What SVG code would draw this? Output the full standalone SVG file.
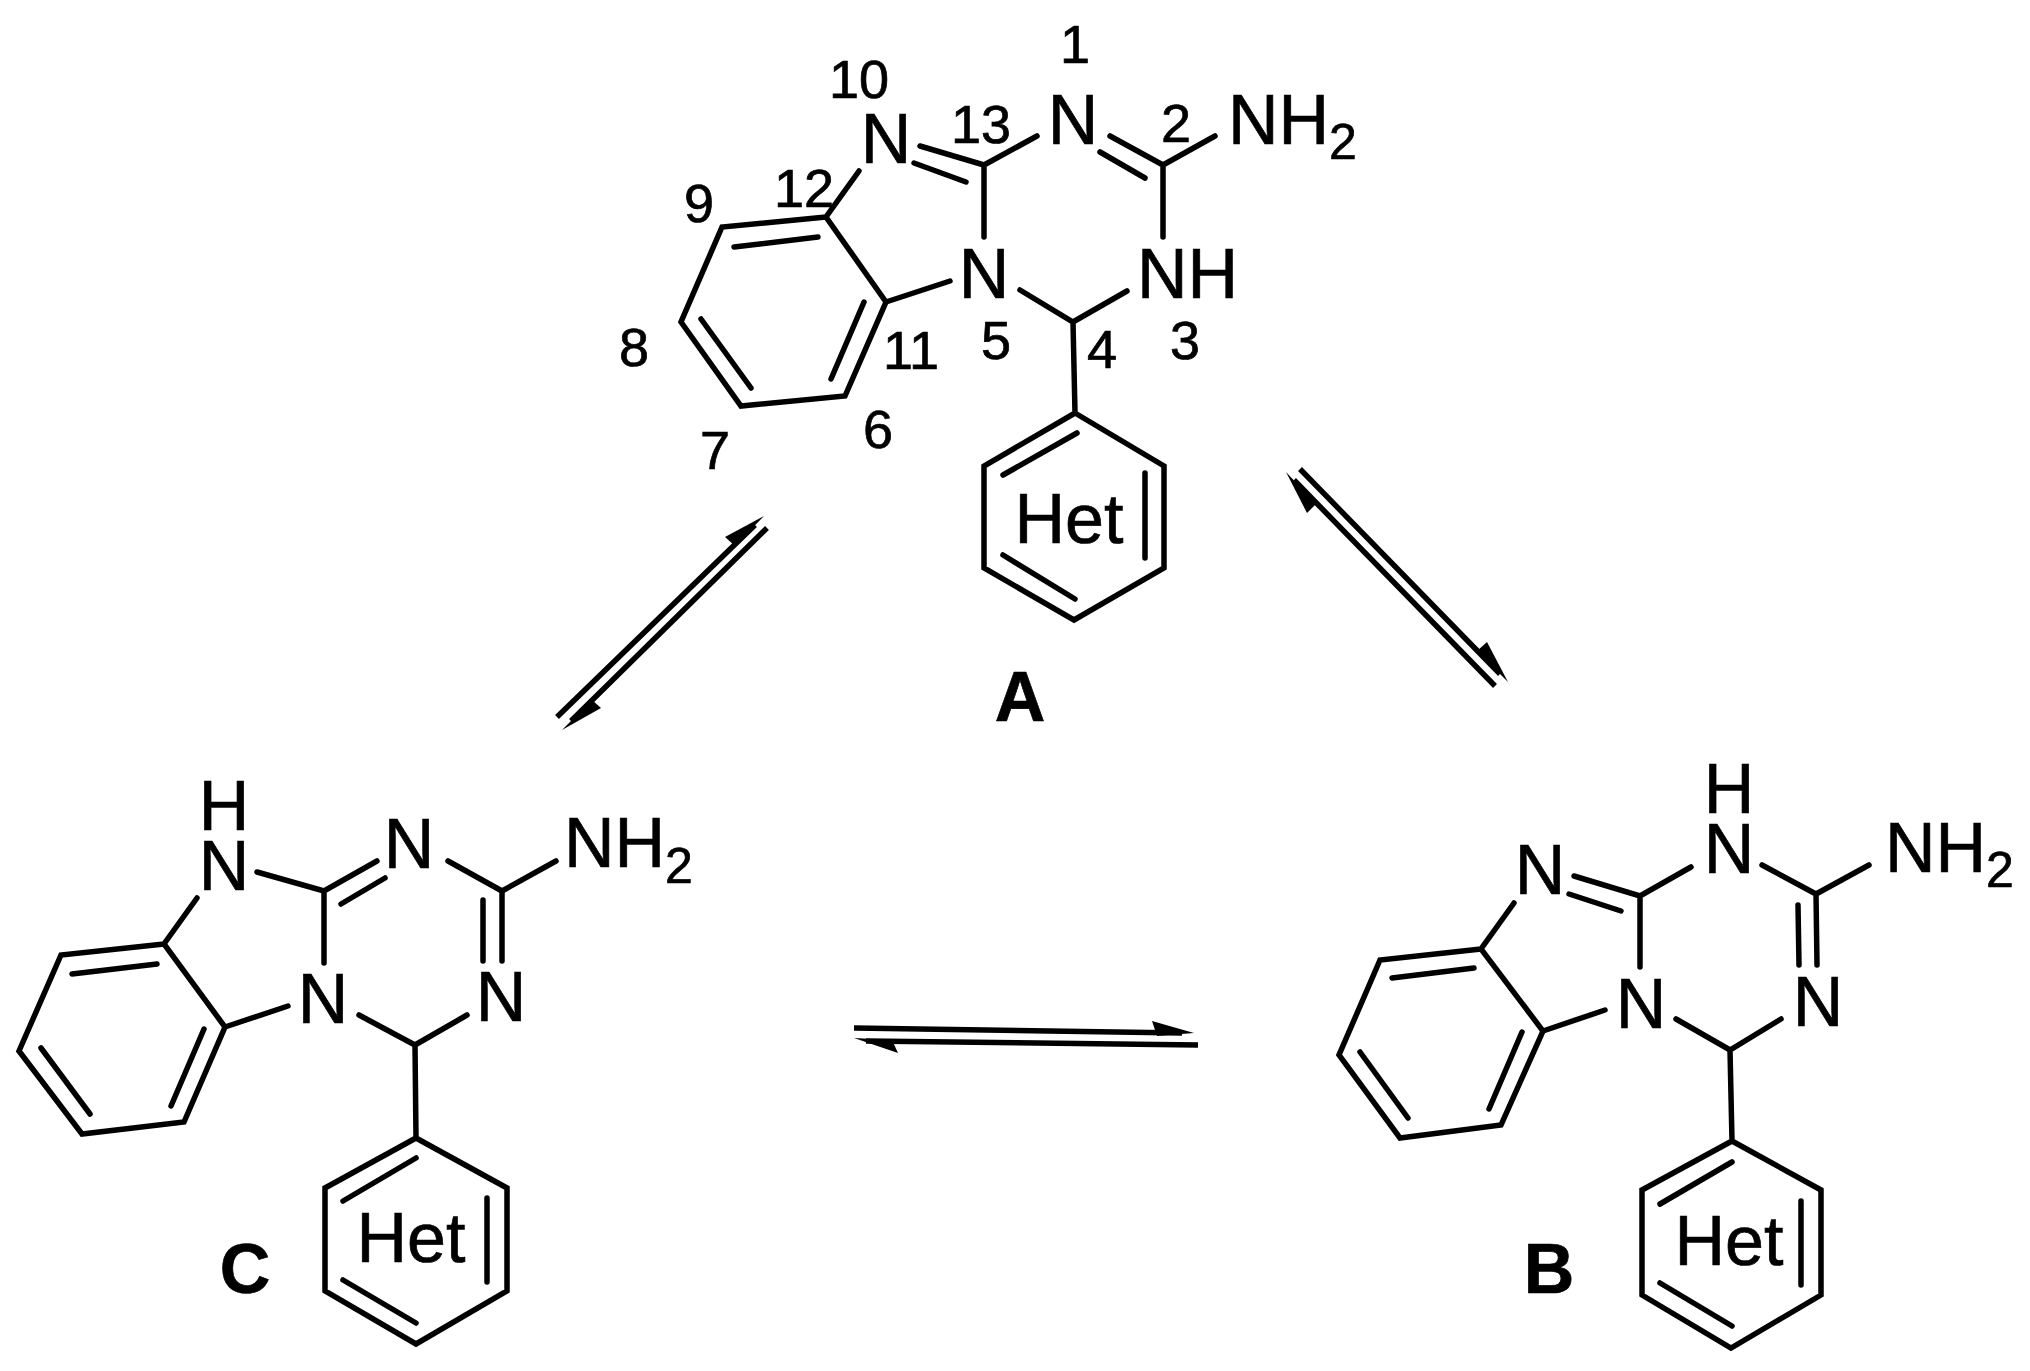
<svg xmlns="http://www.w3.org/2000/svg" width="2030" height="1371" viewBox="0 0 2030 1371">
<defs><style>
.b{fill:none;stroke:#000;stroke-width:5.5;stroke-linecap:round;stroke-linejoin:miter}
.ar{fill:none;stroke:#000;stroke-width:5.5;stroke-linecap:butt}
.h{fill:#000;stroke:none}
text{font-family:"Liberation Sans",Arial,sans-serif;fill:#000;stroke:#000;stroke-width:.7}
.a{font-size:70px}
.m{text-anchor:middle}
.s{font-size:50px}
.n{font-size:54px;text-anchor:middle}
.l{font-size:70px;font-weight:bold;text-anchor:middle}
</style></defs>
<rect width="2030" height="1371" fill="#fff"/>
<g id="molecule-A">
<path class="b" d="M826 217L722 227L681 322L741 406L845 396L886 302L826 217L859 171M734 247L818 237M701 319L751 388M831 379L864 302M984 165L920 146M966 182L914 163M984 165L1037 136M984 165V237M1110 136L1163 165M1100 152L1145 178M1163 165L1215 136M1163 165V237M950 281L886 302M1020 290L1073 322L1127 291M1073 322L1075 413M1075 413L1164 466V568L1074 620L984 568V466ZM1077 433L1003 475M1145 473V558M1003 555L1075 599"/>
<text class="a m" x="886" y="163">N</text><text class="a m" x="1073" y="144">N</text>
<text class="a" x="1228" y="144">NH<tspan class="s" dy="15">2</tspan></text>
<text class="a" x="1137" y="298">NH</text><text class="a m" x="984" y="298">N</text>
<text class="a m" x="1069" y="543">Het</text><text class="l" x="1020" y="721">A</text>
<text class="n" x="1075" y="63">1</text><text class="n" x="859" y="98">10</text><text class="n" x="981" y="143">13</text><text class="n" x="1176" y="142">2</text><text class="n" x="804" y="207">12</text><text class="n" x="699" y="222">9</text><text class="n" x="911" y="369">11</text><text class="n" x="996" y="359">5</text><text class="n" x="1102" y="368">4</text><text class="n" x="1185" y="359">3</text><text class="n" x="878" y="448">6</text><text class="n" x="715" y="469">7</text><text class="n" x="634" y="366">8</text>
</g>
<g id="molecule-C">
<path class="b" d="M164 944L61 955L19 1051L82 1134L184 1122L225 1027L164 944L197 898M72 974L157 964M41 1048L90 1114M171 1106L204 1029M257 872L324 891L377 861M341 904L385 878M448 861L502 891L556 861M502 891V961M483 900V961M324 891V963M288 1006L225 1027M359 1015L415 1045L467 1015M415 1045L416 1138M416 1138L507 1188V1291L416 1344L325 1291V1188ZM416 1158L343 1201M487 1198V1282M343 1280L416 1323"/>
<text class="a m"><tspan x="224" y="830">H</tspan><tspan x="224" y="890">N</tspan></text><text class="a m" x="409" y="868">N</text>
<text class="a" x="564" y="867">NH<tspan class="s" dy="16">2</tspan></text>
<text class="a m" x="501" y="1021">N</text><text class="a m" x="323" y="1023">N</text>
<text class="a m" x="411" y="1262">Het</text><text class="l" x="245" y="1293">C</text>
</g>
<g id="molecule-B">
<path class="b" d="M1481 949L1380 960L1339 1055L1400 1138L1501 1125L1543 1031L1481 949L1514 903M1392 978L1474 968M1360 1052L1408 1118M1489 1109L1522 1032M1574 876L1640 896L1691 867M1569 894L1621 911M1762 865L1816 894L1869 865M1816 894L1817 965M1798 905L1799 965M1640 896V967M1605 1010L1543 1031M1676 1019L1730 1050L1781 1019M1730 1050L1732 1141M1732 1141L1821 1190V1295L1731 1348L1642 1295V1190ZM1732 1162L1660 1204M1801 1201V1285M1660 1283L1732 1326"/>
<text class="a m"><tspan x="1729" y="813">H</tspan><tspan x="1729" y="873">N</tspan></text><text class="a m" x="1540" y="894">N</text>
<text class="a" x="1885" y="872">NH<tspan class="s" dy="15">2</tspan></text>
<text class="a m" x="1818" y="1026">N</text><text class="a m" x="1641" y="1028">N</text>
<text class="a m" x="1729" y="1265">Het</text><text class="l" x="1549" y="1293">B</text>
</g>
<g id="connectors">
<path class="ar" d="M557 717L755 525M767 528L571 721"/>
<polygon class="h" points="764,516 725,537 735,546"/>
<polygon class="h" points="562,730 601,708 592,700"/>
<path class="ar" d="M1300 469L1500 674M1495 686L1294 480"/>
<polygon class="h" points="1286,472 1307,513 1316,504"/>
<polygon class="h" points="1508,682 1487,642 1477,651"/>
<path class="ar" d="M854 1028L1182 1033M1198 1045L866 1041"/>
<polygon class="h" points="1194,1033 1152,1021 1157,1036"/>
<polygon class="h" points="854,1038 898,1053 892,1040"/>
</g>
</svg>
